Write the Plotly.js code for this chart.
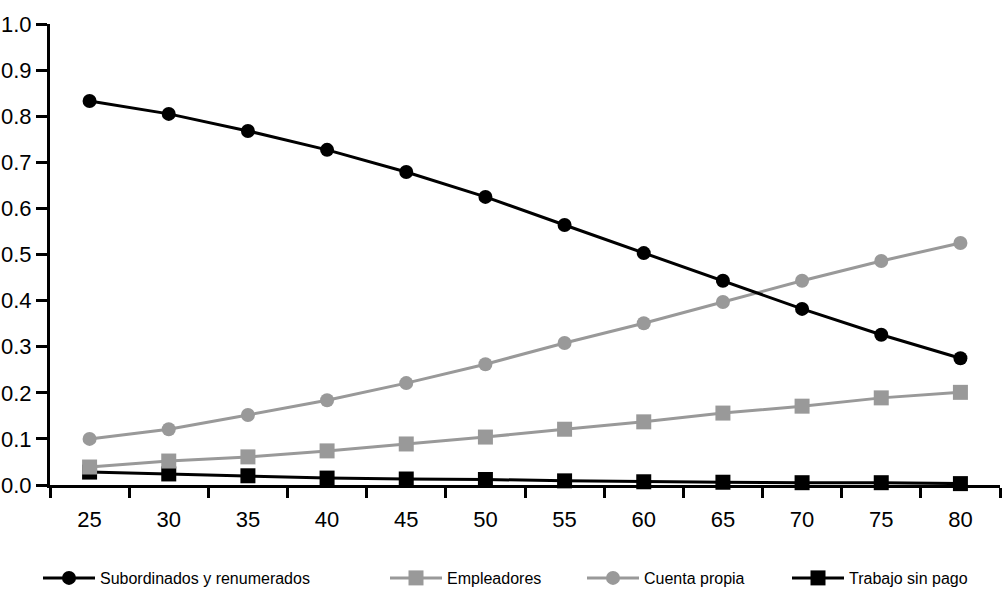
<!DOCTYPE html>
<html>
<head>
<meta charset="utf-8">
<script src="https://cdn.plot.ly/plotly-3.0.1.min.js"></script>
<style>html,body{margin:0;padding:0;background:#fff;}#chart{width:1008px;height:597px;}</style>
</head>
<body>
<div id="chart"></div>
<script>
var ages = ["25","30","35","40","45","50","55","60","65","70","75","80"];
var subordinados = [0.833,0.805,0.768,0.727,0.679,0.625,0.564,0.503,0.443,0.382,0.326,0.275];
var empleadores  = [0.039,0.052,0.061,0.074,0.089,0.104,0.121,0.137,0.156,0.171,0.189,0.201];
var cuentaPropia = [0.100,0.121,0.152,0.184,0.221,0.262,0.308,0.351,0.397,0.443,0.486,0.525];
var sinPago      = [0.028,0.024,0.020,0.015,0.013,0.012,0.009,0.007,0.006,0.005,0.005,0.003];
var names = ["Subordinados y renumerados","Empleadores","Cuenta propia","Trabajo sin pago"];

var FONT = "'Liberation Sans', Arial, sans-serif";
var BLACK = "#000000", GRAY = "#999999";

function tr(y, name, color, symbol, size, leg) {
  return {
    x: ages, y: y, name: name, type: "scatter", mode: "lines+markers",
    line: {color: color, width: 3},
    marker: {color: color, symbol: symbol, size: size},
    cliponaxis: false, legend: leg
  };
}
var data = [
  tr(sinPago, names[3], BLACK, "square", 15, "legend4"),
  tr(empleadores, names[1], GRAY, "square", 15, "legend2"),
  tr(cuentaPropia, names[2], GRAY, "circle", 14, "legend3"),
  tr(subordinados, names[0], BLACK, "circle", 14, "legend")
];
function legendAt(xpx){
  return {x: xpx/1008, xref: "container", y: (597-578)/597, yref: "container",
    xanchor: "left", yanchor: "middle", orientation: "h",
    font: {family: FONT, size: 16, color: BLACK}, itemwidth: 52, bgcolor: "rgba(0,0,0,0)", borderwidth: 0};
}
var layout = {
  width: 1008, height: 597,
  margin: {l: 50, r: 8, t: 24, b: 112},
  paper_bgcolor: "#fff", plot_bgcolor: "#fff",
  font: {family: FONT, size: 22, color: BLACK},
  showlegend: true,
  legend: legendAt(38),
  legend2: legendAt(385),
  legend3: legendAt(582),
  legend4: legendAt(787),
  xaxis: {
    type: "category", range: [-0.5, 11.5], tickson: "boundaries",
    ticks: "outside", ticklen: 10, tickwidth: 3, tickcolor: BLACK,
    showline: true, linecolor: BLACK, linewidth: 3, showgrid: false, zeroline: false,
    ticklabelstandoff: 13, tickfont: {family: FONT, size: 22, color: BLACK}
  },
  yaxis: {
    range: [0, 1], dtick: 0.1, tick0: 0, tickformat: ".1f",
    ticks: "outside", ticklen: 11, tickwidth: 3, tickcolor: BLACK,
    showline: true, linecolor: BLACK, linewidth: 3, showgrid: false, zeroline: false,
    tickfont: {family: FONT, size: 22, color: BLACK}
  }
};
Plotly.newPlot("chart", data, layout, {displayModeBar: false, staticPlot: true});
</script>
</body>
</html>
